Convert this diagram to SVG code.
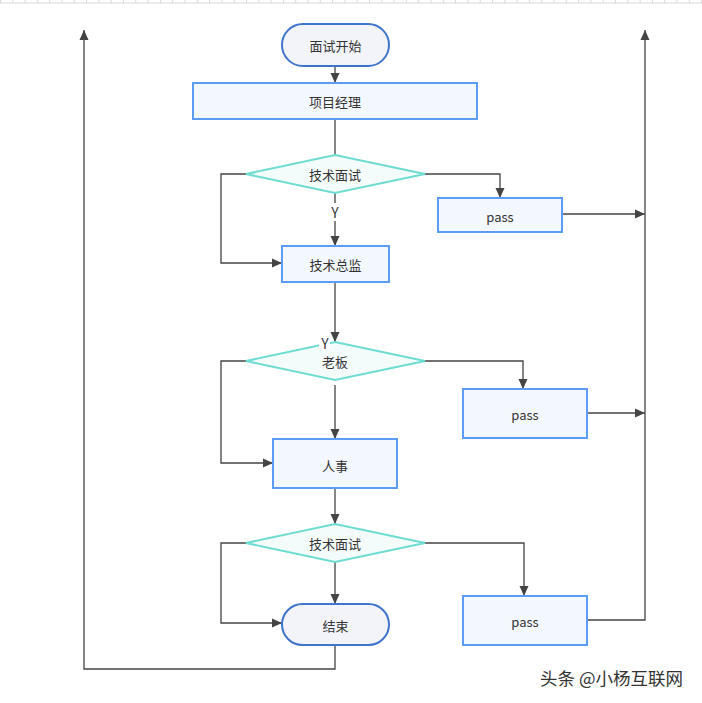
<svg xmlns="http://www.w3.org/2000/svg" width="702" height="703" viewBox="0 0 702 703">
<defs>
<marker id="ah" viewBox="0 0 10 10" refX="10" refY="5" markerWidth="10" markerHeight="10" markerUnits="userSpaceOnUse" orient="auto">
<path d="M0,0.5 L10,5 L0,9.5 z" fill="#444"/>
</marker>
<pattern id="tick" x="0" y="0" width="12.3" height="4" patternUnits="userSpaceOnUse">
<rect x="0" y="0" width="1" height="3" fill="#d9d9d9"/>
</pattern>
</defs>
<style>
.term{fill:#f2f4fa;stroke:#3f74cb;stroke-width:2}
.box{fill:#f3f7fe;stroke:#5c9cf5;stroke-width:2}
.dia{fill:#f4fbfb;stroke:#6edcd0;stroke-width:2}
.lbl{font-family:"Noto Sans CJK SC","Noto Sans",sans-serif;font-size:13px;fill:#333;text-anchor:middle;dominant-baseline:central}
.y{font-size:14px}
.c{fill:none;stroke:#444;stroke-width:1.3}
.ca{fill:none;stroke:#444;stroke-width:1.3;marker-end:url(#ah)}
</style>
<rect width="702" height="703" fill="#fff"/>
<g id="ruler">
<rect x="0" y="0" width="702" height="3" fill="url(#tick)"/>
<line x1="0" y1="3" x2="702" y2="3" stroke="#d9d9d9" stroke-width="1"/>
</g>
<g id="connectors">
<path class="ca" d="M335,66 V83"/>
<path class="c" d="M335,119 V155"/>
<path class="ca" d="M335,221 V246"/>
<path class="c" d="M335,193 V203"/>
<path class="ca" d="M246,174 H221 V263 H282"/>
<path class="ca" d="M425,174 H500 V198"/>
<path class="ca" d="M562,214 H645"/>
<path class="ca" d="M335,282 V342"/>
<path class="ca" d="M335,385 V439"/>
<path class="ca" d="M246,361 H221 V463 H273"/>
<path class="ca" d="M425,361 H523 V389"/>
<path class="ca" d="M587,413 H645"/>
<path class="ca" d="M335,488 V524"/>
<path class="ca" d="M335,562 V604"/>
<path class="ca" d="M246,543 H221 V623 H282"/>
<path class="ca" d="M425,543 H524 V596"/>
<path class="ca" d="M587,620 H645 V30"/>
<path class="ca" d="M335,645 V669 H84 V30"/>
</g>
<g id="start"><rect class="term" x="282" y="24" width="107" height="42" rx="21"/><text class="lbl" x="335.5" y="45">面试开始</text></g>
<g id="pm"><rect class="box" x="193" y="83" width="284" height="36"/><text class="lbl" x="335" y="101">项目经理</text></g>
<g id="d1"><polygon class="dia" points="335,155 425,174 335,193 246,174"/><text class="lbl" x="335" y="174">技术面试</text></g>
<g id="y1"><text class="lbl y" x="335" y="212">Y</text></g>
<g id="cto"><rect class="box" x="282" y="246" width="107" height="36"/><text class="lbl" x="335.5" y="264">技术总监</text></g>
<g id="pass1"><rect class="box" x="438" y="198" width="124" height="34"/><text class="lbl" x="500" y="216">pass</text></g>
<g id="d2"><polygon class="dia" points="335,342 425,361 335,380 246,361"/><text class="lbl" x="335" y="361">老板</text></g>
<g id="y2"><rect x="319" y="336" width="11" height="14" fill="#fff"/><text class="lbl y" x="325" y="343">Y</text></g>
<g id="pass2"><rect class="box" x="463" y="389" width="124" height="49"/><text class="lbl" x="525" y="414">pass</text></g>
<g id="hr"><rect class="box" x="273" y="439" width="124" height="49"/><text class="lbl" x="335" y="465">人事</text></g>
<g id="d3"><polygon class="dia" points="335,524 425,543 335,562 246,543"/><text class="lbl" x="335" y="543">技术面试</text></g>
<g id="end"><rect class="term" x="282" y="604" width="107" height="41" rx="20.5"/><text class="lbl" x="335.5" y="625">结束</text></g>
<g id="pass3"><rect class="box" x="463" y="596" width="124" height="49"/><text class="lbl" x="525" y="621">pass</text></g>
<g id="watermark"><text x="540" y="685" font-family="Noto Sans CJK SC,sans-serif" font-size="17.5" fill="#333">头条 @小杨互联网</text></g>
</svg>
